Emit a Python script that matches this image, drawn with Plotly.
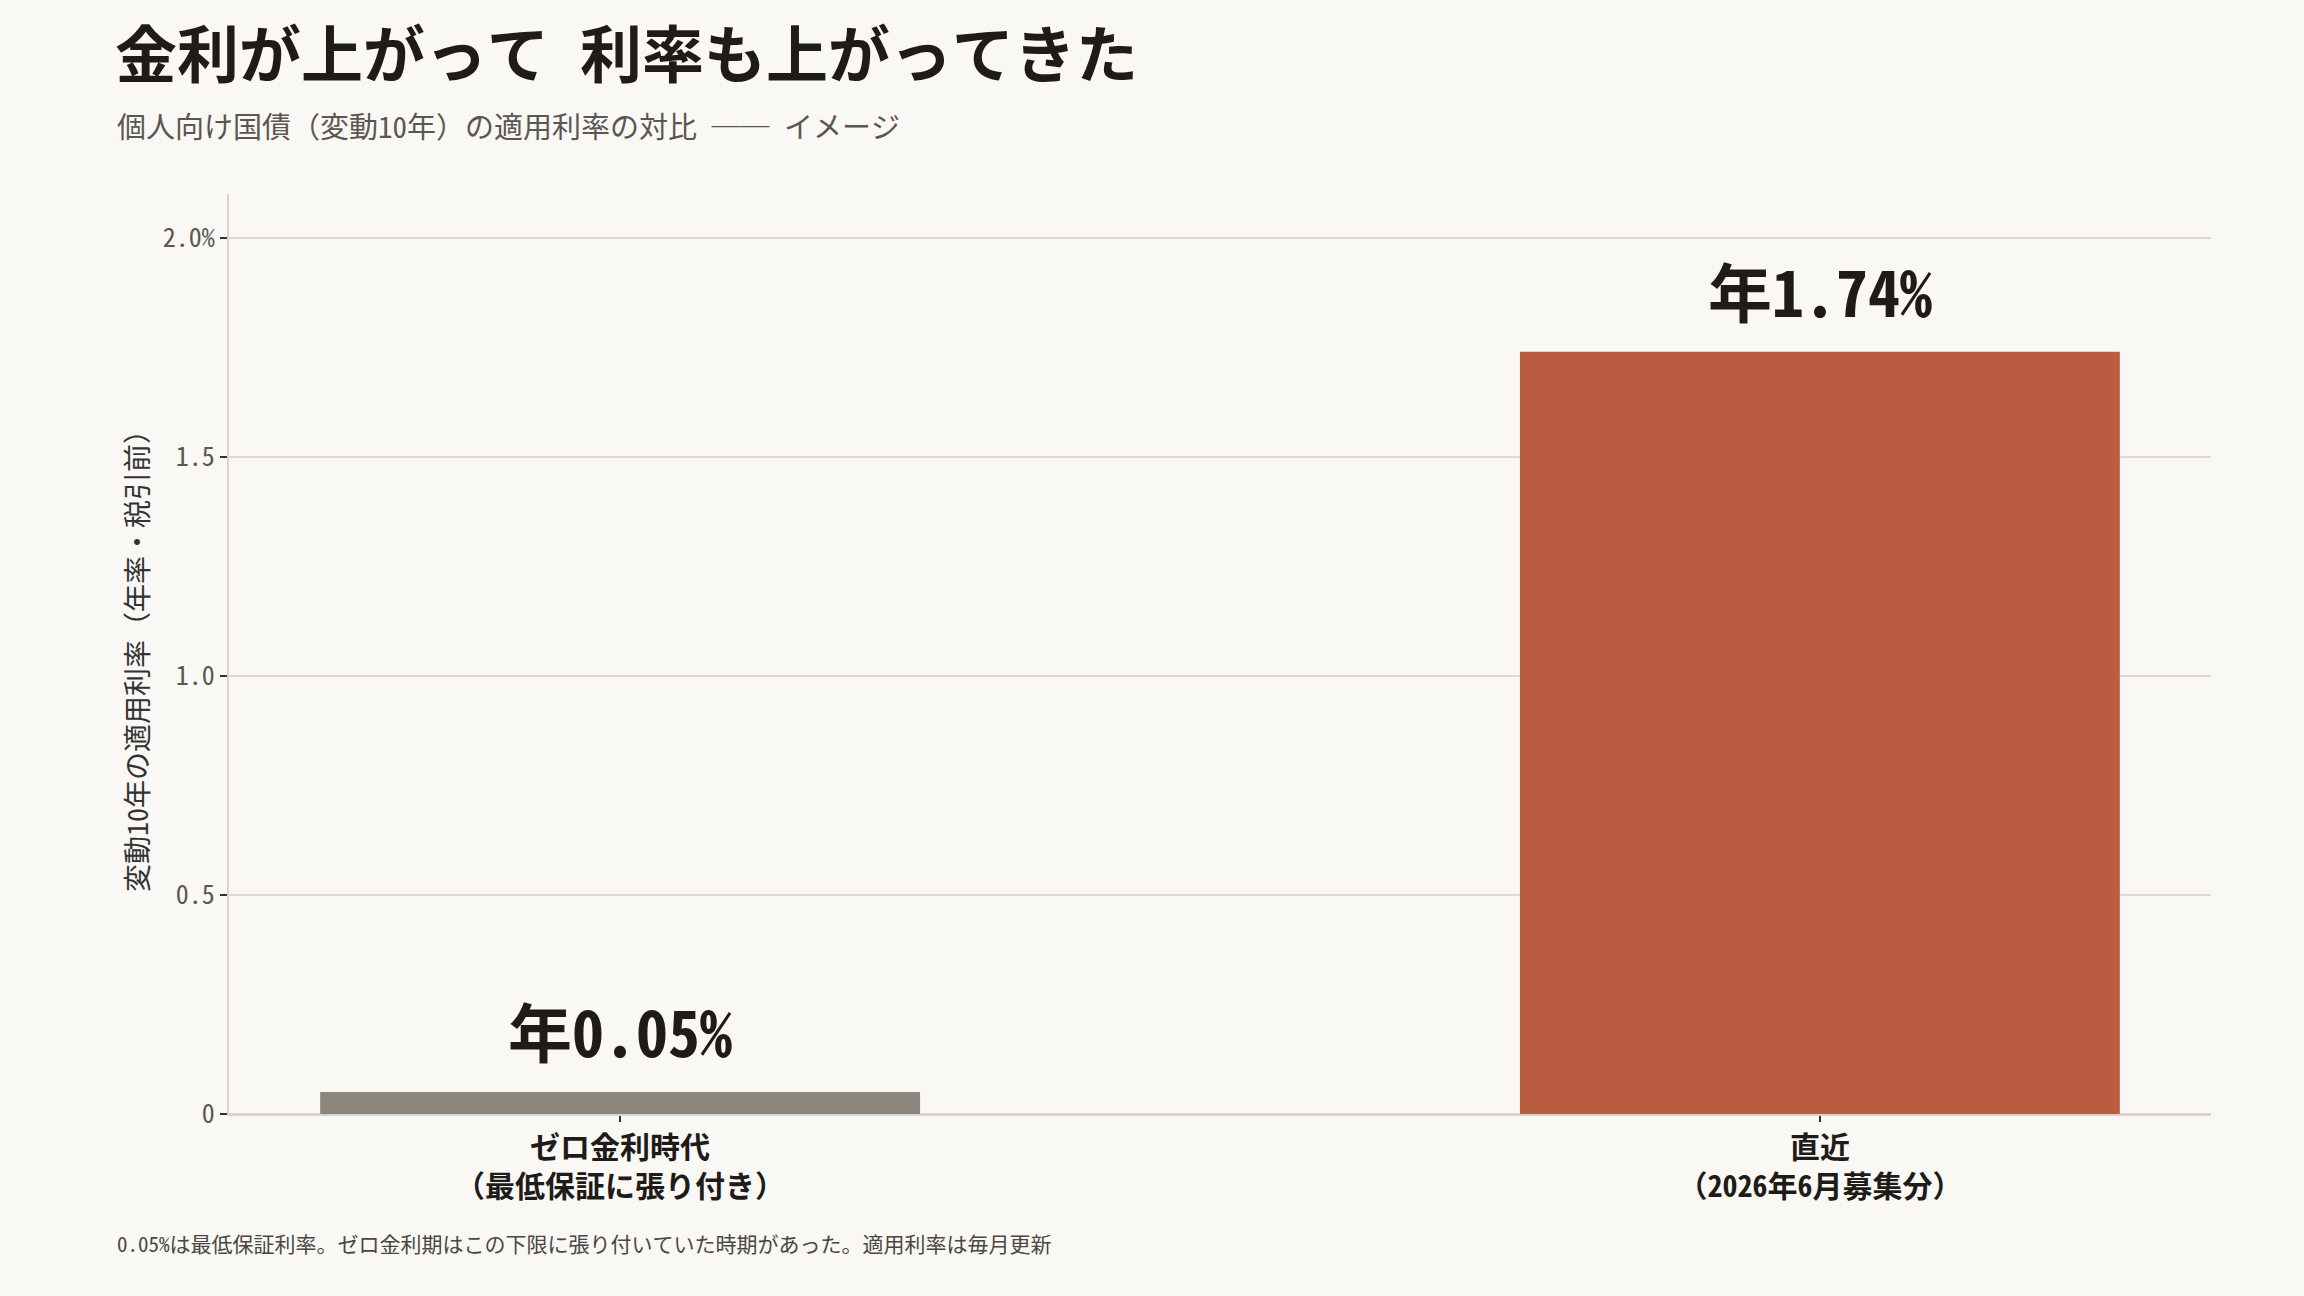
import plotly.graph_objects as go

# data
categories = ["ゼロ金利時代<br>（最低保証に張り付き）", "直近<br>（2026年6月募集分）"]
rates = [0.05, 1.74]
bar_labels = ["年0.05%", "年1.74%"]
bar_colors = ["#8D857B", "#BA5C40"]
y_tickvals = [0, 0.5, 1.0, 1.5, 2.0]
y_ticktext = ["0", "0.5", "1.0", "1.5", "2.0%"]

FONT = "Noto Sans Mono CJK JP, Noto Sans CJK JP, sans-serif"
BG = "#F9F8F4"

W, H = 2304, 1296
ML, MR, MT, MB = 229, 93, 194, 182


def px_x(x):
    # window pixel -> paper x
    return (x - ML) / (W - ML - MR)


def px_y(y):
    # window pixel -> paper y
    return (H - MB - y) / (H - MT - MB)


fig = go.Figure(go.Bar(
    x=categories,
    y=rates,
    width=0.5,
    marker=dict(color=bar_colors, line=dict(width=0)),
    hoverinfo="skip",
))

# value labels above the bars
value_notes = [
    dict(
        x=c, y=v, xref="x", yref="y", text=t,
        showarrow=False, xanchor="center", yanchor="bottom", yshift=15,
        font=dict(family=FONT, size=64, color="#1E1B18", weight="bold"),
    )
    for c, v, t in zip(categories, rates, bar_labels)
]

fig.update_layout(
    width=W,
    height=H,
    paper_bgcolor=BG,
    plot_bgcolor=BG,
    font=dict(family=FONT, color="#333333"),
    margin=dict(l=ML, r=MR, t=MT, b=MB),
    showlegend=False,
    title=dict(
        text="金利が上がって 利率も上がってきた",
        font=dict(family=FONT, size=62, color="#1E1B18", weight="bold"),
        x=115 / W, xanchor="left",
        y=1 - 56 / H, yanchor="middle",
    ),
    annotations=value_notes + [
        dict(
            text="個人向け国債（変動10年）の適用利率の対比 ── イメージ",
            x=px_x(115), y=px_y(125), xref="paper", yref="paper",
            showarrow=False, xanchor="left", yanchor="middle",
            font=dict(family=FONT, size=29, color="#5A5652"),
        ),
        dict(
            text="0.05%は最低保証利率。ゼロ金利期はこの下限に張り付いていた時期があった。適用利率は毎月更新",
            x=px_x(115), y=px_y(1243), xref="paper", yref="paper",
            showarrow=False, xanchor="left", yanchor="middle",
            font=dict(family=FONT, size=21, color="#4A4642"),
        ),
    ],
)

fig.update_xaxes(
    range=[-0.326, 1.326],
    showgrid=False,
    showline=True, linecolor="#D8D5D0", linewidth=2,
    ticks="outside", ticklen=6, tickcolor="#333333", tickwidth=2,
    tickfont=dict(family=FONT, size=30, color="#1E1B18", weight="bold"),
    fixedrange=True,
)
fig.update_yaxes(
    range=[0, 2.1],
    tickvals=y_tickvals,
    ticktext=y_ticktext,
    showgrid=True, gridcolor="#DDDAD5", gridwidth=1.5,
    showline=True, linecolor="#D8D5D0", linewidth=2,
    zeroline=True, zerolinecolor="#D8D5D0", zerolinewidth=2,
    ticks="outside", ticklen=7, tickcolor="#333333", tickwidth=2,
    tickfont=dict(family=FONT, size=26, color="#5A5652"),
    title=dict(text="変動10年の適用利率（年率・税引前）",
               font=dict(family=FONT, size=28, color="#333333"), standoff=6),
    fixedrange=True,
)

fig.write_html(
    "out.html",
    config={"displayModeBar": False},
    post_script="document.body.style.margin='0';",
)
